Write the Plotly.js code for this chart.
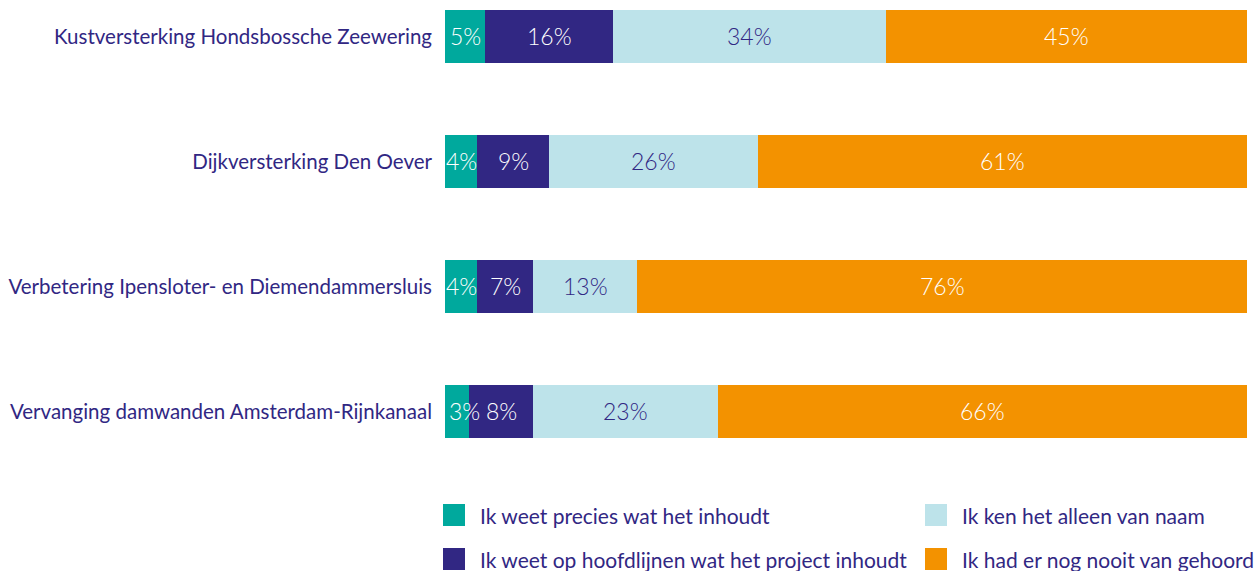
<!DOCTYPE html>
<html>
<head>
<meta charset="utf-8">
<script src="https://cdn.plot.ly/plotly-3.0.1.min.js"></script>
<style>html,body{margin:0;padding:0;background:#fff;}#chart{width:1257px;height:571px;}</style>
</head>
<body>
<div id="chart"></div>
<script>
var categories = [
  "Kustversterking Hondsbossche Zeewering",
  "Dijkversterking Den Oever",
  "Verbetering Ipensloter- en Diemendammersluis",
  "Vervanging damwanden Amsterdam-Rijnkanaal"
];
var seriesNames = [
  "Ik weet precies wat het inhoudt",
  "Ik weet op hoofdlijnen wat het project inhoudt",
  "Ik ken het alleen van naam",
  "Ik had er nog nooit van gehoord"
];
var precies = [5, 4, 4, 3];
var hoofdlijnen = [16, 9, 7, 8];
var naam = [34, 26, 13, 23];
var nooit = [45, 61, 76, 66];

var series = [precies, hoofdlijnen, naam, nooit];
var colors = ["#00a99d", "#312783", "#bde3ea", "#f39200"];
var textColors = ["#ffffff", "#ffffff", "#312783", "#ffffff"];
var FONT = "Lato, 'Open Sans', sans-serif";

var traces = series.map(function (vals, i) {
  return {
    type: "bar",
    orientation: "h",
    name: seriesNames[i],
    y: categories,
    x: vals,
    marker: { color: colors[i], line: { width: 0 } },
    hoverinfo: "x+name",
    showlegend: false
  };
});

var annotations = [];
categories.forEach(function (cat, c) {
  var cum = 0;
  series.forEach(function (vals, i) {
    var v = vals[c];
    annotations.push({
      x: cum + v / 2, y: cat, xref: "x", yref: "y",
      text: v + "%", showarrow: false, yshift: 1,
      xshift: (cum === 0 && v < 4) ? 7 : 0,
      font: { family: FONT, size: 23, weight: 300, color: textColors[i] }
    });
    cum += v;
  });
});

// plot area geometry for legend placement
var L = 445, W = 802, T = 0, H = 450;
function px(x) { return (x - L) / W; }
function py(y) { return 1 - (y - T) / H; }

var legendPos = [
  { sx: 443, cy: 515 },
  { sx: 443, cy: 559 },
  { sx: 925, cy: 515 },
  { sx: 925, cy: 559 }
];
var shapes = [];
legendPos.forEach(function (p, i) {
  shapes.push({
    type: "rect", xref: "paper", yref: "paper",
    x0: px(p.sx), x1: px(p.sx + 22), y0: py(p.cy - 11), y1: py(p.cy + 11),
    fillcolor: colors[i], line: { width: 0 }
  });
  annotations.push({
    xref: "paper", yref: "paper", x: px(p.sx + 35), y: py(p.cy),
    xanchor: "left", yanchor: "middle", showarrow: false,
    text: seriesNames[i],
    font: { family: FONT, size: 21, color: "#312783" }
  });
});

var layout = {
  width: 1257, height: 571,
  margin: { l: L, r: 1257 - L - W, t: T, b: 571 - T - H, pad: 0 },
  paper_bgcolor: "#ffffff", plot_bgcolor: "#ffffff",
  barmode: "stack",
  bargap: 0.576,
  showlegend: false,
  xaxis: { range: [0, 100], visible: false, fixedrange: true },
  yaxis: {
    type: "category",
    range: [3.308, -0.292],
    showgrid: false, zeroline: false, showline: false,
    ticks: "", ticklabelstandoff: 12,
    tickfont: { family: FONT, size: 20.5, color: "#312783" },
    automargin: false, fixedrange: true
  },
  annotations: annotations,
  shapes: shapes,
  font: { family: FONT }
};

Plotly.newPlot("chart", traces, layout, { displayModeBar: false, staticPlot: true });
</script>
</body>
</html>
